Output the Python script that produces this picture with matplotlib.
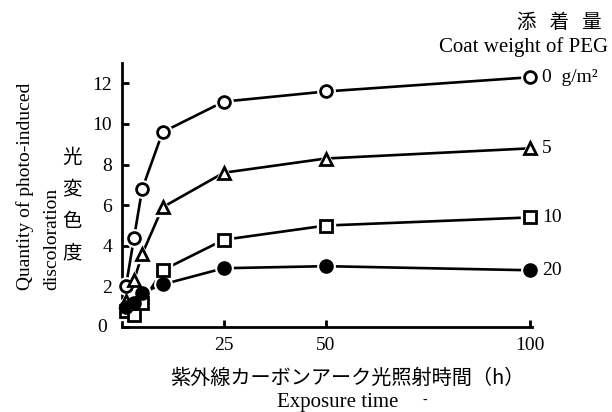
import matplotlib
matplotlib.use("Agg")
import matplotlib.pyplot as plt

# exposure time (h)
hours = [1, 3, 5, 10, 25, 50, 100]

# photo-induced discoloration by PEG coat weight
peg_0 = [2.0, 4.4, 6.8, 9.6, 11.1, 11.6, 12.3]
peg_5 = [1.3, 2.3, 3.6, 5.9, 7.6, 8.3, 8.8]
peg_10 = [0.8, 0.6, 1.2, 2.8, 4.3, 5.0, 5.4]
peg_20 = [1.0, 1.2, 1.7, 2.1, 2.9, 3.0, 2.8]

series_labels = ["0  g/m\u00b2", "5", "10", "20"]
x_ticks = [25, 50, 100]
y_ticks = [0, 2, 4, 6, 8, 10, 12]

serif = ["Liberation Serif", "Noto Sans CJK JP"]
jp = ["Noto Sans CJK JP", "Liberation Serif"]

fig = plt.figure(figsize=(6.12, 4.12), dpi=100)
ax = fig.add_axes([0.199, 0.206, 0.670, 0.641])

styles = [
    (peg_0, "o", "white"),
    (peg_5, "^", "white"),
    (peg_10, "s", "white"),
    (peg_20, "o", "black"),
]
for vals, mk, fc in styles:
    ms = 8.5 if mk != "^" else 9
    ax.plot(hours, vals, color="black", lw=1.9, zorder=2, clip_on=False)
    ax.plot(hours, vals, ls="none", marker=mk, ms=ms + 4, mfc="white",
            mec="white", zorder=3, clip_on=False)
    ax.plot(hours, vals, ls="none", marker=mk, ms=ms, mfc=fc, mec="black",
            mew=2.0, zorder=4, clip_on=False)

for vals, lab in zip([peg_0, peg_5, peg_10, peg_20], series_labels):
    ax.annotate(lab, xy=(hours[-1], vals[-1]), xytext=(9, 0),
                textcoords="offset points", va="center", ha="left",
                fontsize=14, family=serif, annotation_clip=False)

ax.set_xlim(0, 100.5)
ax.set_ylim(0, 13)
ax.set_xticks(x_ticks)
ax.set_yticks(y_ticks)
ax.spines["top"].set_visible(False)
ax.spines["right"].set_visible(False)
for s in ["left", "bottom"]:
    ax.spines[s].set_linewidth(2.0)
ax.tick_params(direction="in", length=5, width=2.0, labelsize=14, pad=7)
for t in ax.get_xticklabels() + ax.get_yticklabels():
    t.set_family(serif)
ax.text(-0.035, 0, "0", transform=ax.get_yaxis_transform(), ha="right",
        va="center", fontsize=14, family=serif)
ax.set_yticklabels(["" if v == 0 else str(v) for v in y_ticks])

fig.text(347 / 612, 1 - 378 / 412, "紫外線カーボンアーク光照射時間（h）",
         ha="center", va="center", fontsize=14.5, family=jp)
fig.text(338 / 612, 1 - 402 / 412, "Exposure time", ha="center",
         va="center", fontsize=15, family=serif)
fig.text(425 / 612, 1 - 400 / 412, "-", ha="center", va="center",
         fontsize=10, family=serif)

fig.text(25 / 612, 1 - 290 / 412, "Quantity of photo-induced",
         rotation=90, rotation_mode="anchor", ha="left", va="center",
         fontsize=14, family=serif)
fig.text(52 / 612, 1 - 290 / 412, "discoloration", rotation=90,
         rotation_mode="anchor", ha="left", va="center", fontsize=14,
         family=serif)
for i, ch in enumerate("光変色度"):
    fig.text(72 / 612, 1 - (157 + 32 * i) / 412, ch, ha="center",
             va="center", fontsize=14, family=jp)

fig.text(602 / 612, 1 - 22 / 412, "添   着   量", ha="right", va="center",
         fontsize=14, family=jp)
fig.text(608 / 612, 1 - 47 / 412, "Coat weight of PEG", ha="right",
         va="center", fontsize=15, family=serif)

fig.savefig("out.png", dpi=100)
